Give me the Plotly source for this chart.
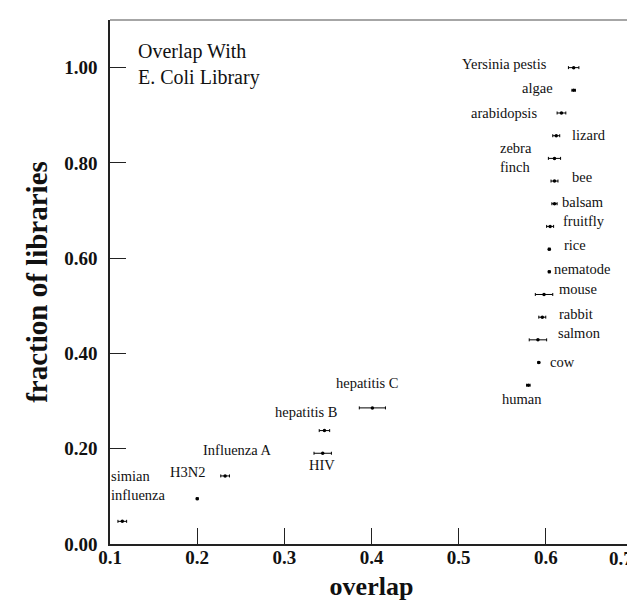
import plotly.graph_objects as go

# ---- data ----
species = ["simian<br>influenza", "H3N2", "Influenza A", "HIV", "hepatitis B",
           "hepatitis C", "human", "cow", "salmon", "rabbit", "mouse",
           "nematode", "rice", "fruitfly", "balsam", "bee", "zebra<br>finch",
           "lizard", "arabidopsis", "algae", "Yersinia pestis"]
overlap = [0.114, 0.200, 0.232, 0.344, 0.346, 0.401, 0.580, 0.592, 0.591,
           0.596, 0.598, 0.604, 0.604, 0.605, 0.610, 0.610, 0.610, 0.612,
           0.618, 0.632, 0.632]
overlap_err = [0.005, 0.001, 0.005, 0.010, 0.006, 0.015, 0.002, 0.001, 0.010,
               0.004, 0.010, 0.001, 0.001, 0.004, 0.003, 0.004, 0.007, 0.004,
               0.005, 0.002, 0.006]
fraction = [0.0476, 0.0952, 0.1429, 0.1905, 0.2381, 0.2857, 0.3333, 0.3810,
            0.4286, 0.4762, 0.5238, 0.5714, 0.6190, 0.6667, 0.7143, 0.7619,
            0.8095, 0.8571, 0.9048, 0.9524, 1.0000]
x_ticks = [0.1, 0.2, 0.3, 0.4, 0.5, 0.6, 0.7]
y_ticks = [0.0, 0.2, 0.4, 0.6, 0.8, 1.0]

# label placement relative to each point: (xanchor, xshift px, yshift px)
label_place = [("center", 16, 36), ("center", -10, 27), ("center", 12, 26),
               ("center", -1, -12), ("center", -18, 19), ("center", -5, 25),
               ("center", -6, -14), ("left", 9, 1), ("left", 18, 7),
               ("left", 15, 3), ("left", 13, 5), ("left", 3, 3),
               ("left", 13, 4), ("left", 11, 5), ("left", 6, 2),
               ("left", 16, 4), ("right", -20, 1), ("left", 14, 1),
               ("right", -22, 0), ("right", -19, 2), ("right", -25, 4)]

SERIF = "Liberation Serif"
TICKFONT = dict(family=SERIF, size=19, color="#111", weight="bold")

fig = go.Figure()
fig.add_trace(go.Scatter(
    x=overlap, y=fraction, mode="markers",
    marker=dict(color="black", size=3.5),
    error_x=dict(type="data", array=overlap_err, visible=True,
                 color="black", thickness=1, width=1.5),
    hoverinfo="skip", showlegend=False, cliponaxis=False,
))

annotations = []
for name, xv, yv, (anc, dx, dy) in zip(species, overlap, fraction, label_place):
    annotations.append(dict(
        x=xv, y=yv, xref="x", yref="y", text=name, showarrow=False,
        xanchor=anc, yanchor="middle", xshift=dx, yshift=dy, align="left",
        font=dict(family=SERIF, size=14.5, color="#111"),
    ))

annotations.append(dict(
    x=0.05, y=0.966, xref="paper", yref="paper", xanchor="left", yanchor="top",
    text="Overlap With<br>E. Coli Library", showarrow=False, align="left",
    font=dict(family=SERIF, size=20, color="#111"),
))

# last x tick label sits at the right figure edge; drawn as an annotation so
# it stays fully visible
x_ticktext = [f"{v:.1f}" for v in x_ticks]
annotations.append(dict(
    x=x_ticks[-1], y=0, xref="x", yref="paper", xanchor="right", yanchor="top",
    xshift=2, yshift=-2, text=x_ticktext[-1], showarrow=False, font=TICKFONT,
))
x_ticktext[-1] = ""

fig.update_layout(
    width=635, height=601,
    margin=dict(l=102, r=10, t=12, b=65, autoexpand=False),
    paper_bgcolor="white", plot_bgcolor="white",
    annotations=annotations,
    shapes=[
        dict(type="line", xref="paper", yref="paper", x0=0, x1=1, y0=1, y1=1,
             line=dict(color="#888888", width=1.5)),
        dict(type="line", xref="paper", yref="paper", x0=1, x1=1, y0=0, y1=1,
             line=dict(color="#222222", width=1.5)),
    ],
    xaxis=dict(
        range=[0.0999, 0.7001], tickvals=x_ticks, ticktext=x_ticktext,
        ticks="inside", ticklen=16, tickwidth=1, tickcolor="#222",
        ticklabelstandoff=-5, automargin=False,
        showline=True, linecolor="#222", linewidth=1.5, showgrid=False,
        zeroline=False, tickfont=TICKFONT,
        title=dict(text="overlap", standoff=10,
                   font=dict(family=SERIF, size=26, color="#111", weight="bold")),
    ),
    yaxis=dict(
        range=[0, 1.1], tickvals=y_ticks, ticktext=[f"{v:.2f}" for v in y_ticks],
        ticks="inside", ticklen=16, tickwidth=1, tickcolor="#222",
        ticklabelstandoff=7, automargin=False,
        showline=True, linecolor="#222", linewidth=1.5, showgrid=False,
        zeroline=False, tickfont=TICKFONT,
        title=dict(text="fraction of libraries", standoff=8,
                   font=dict(family=SERIF, size=29, color="#111", weight="bold")),
    ),
)

fig.write_html("out.html")
